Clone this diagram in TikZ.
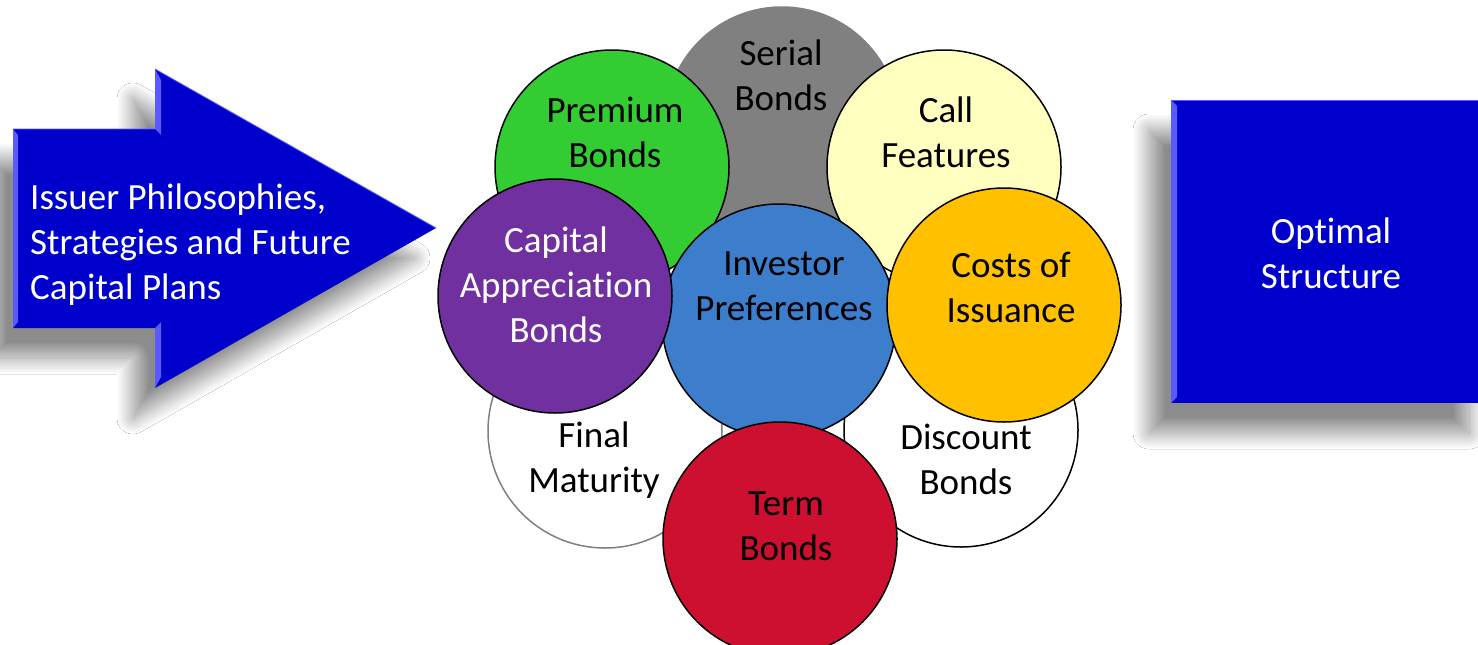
\documentclass[tikz,border=0pt]{standalone}
\usepackage{fontspec}
\setmainfont[Ligatures=NoCommon]{Carlito}
\usepackage{tikz}
\usetikzlibrary{shadows.blur}

\definecolor{planblue}{HTML}{0000CC}
\definecolor{bevelblue}{HTML}{5A5AFF}
\definecolor{serialgray}{HTML}{808080}
\definecolor{premiumgreen}{HTML}{33CC33}
\definecolor{callyellow}{HTML}{FFFFBF}
\definecolor{capitalpurple}{HTML}{7030A0}
\definecolor{investorblue}{HTML}{3C7ECC}
\definecolor{costorange}{HTML}{FFC000}
\definecolor{termred}{HTML}{CE1030}

\tikzset{
  petal/.style={circle, draw=black, line width=1.5pt, minimum size=234pt, inner sep=0pt},
  petal text/.style={align=center, inner sep=0pt, text=black, font=\fontsize{37}{45}\selectfont},
  white text/.style={align=center, inner sep=0pt, text=white, font=\fontsize{37}{45}\selectfont},
  soft shadow/.style={blur shadow={shadow xshift=-22pt, shadow yshift=-30pt,
      shadow blur radius=16pt, shadow blur steps=30, shadow opacity=45}},
}

\begin{document}
\begin{tikzpicture}[x=1pt, y=-1pt]
\useasboundingbox (0,0) rectangle (1478,645);
\clip (0,0) rectangle (1478,645);
\fill[white] (0,0) rectangle (1478,645);

% arrow on the left
\fill[planblue, soft shadow] (13,129) -- (155,129) -- (155,69) -- (436,228)
  -- (155,388) -- (155,328) -- (13,328) -- cycle;
\fill[bevelblue] (13,129) -- (18,135) -- (18,322) -- (13,328) -- cycle;
\fill[bevelblue] (155,69) -- (161,80) -- (161,135) -- (155,129) -- cycle;
\fill[bevelblue] (155,328) -- (161,322) -- (161,377) -- (155,388) -- cycle;
\draw[bevelblue, line width=0.8pt] (13,129) -- (155,129) (155,69) -- (436,228);
\node[white text, align=left, anchor=west] (plans) at (30,245)
  {Issuer Philosophies,\\Strategies and Future\\Capital Plans};

% back row of circles
\node[petal, draw=serialgray, fill=white] (final) at (605,431) {};
\node[petal text] (final-t) at (594,460) {Final\\Maturity};
\node[petal, fill=white] (discount) at (961,430) {};
\node[petal text] (discount-t) at (966,459) {Discount\\Bonds};
\node[petal, draw=serialgray, fill=serialgray] (serial) at (782,124) {};
\node[petal text] (serial-t) at (781,75) {Serial\\Bonds};
\node[petal, fill=premiumgreen] (premium) at (612,167) {};
\node[petal text] (premium-t) at (615,132) {Premium\\Bonds};
\node[petal, fill=callyellow] (call) at (944,167) {};
\node[petal text] (call-t) at (946,132) {Call\\Features};

% middle
\node[petal, fill=investorblue] (investor) at (779,321) {};
\node[petal text] (investor-t) at (784,286) {Investor\\Preferences};

% front row
\node[petal, fill=capitalpurple] (capital) at (555,296) {};
\node[white text] (capital-t) at (556,285) {Capital\\Appreciation\\Bonds};
\node[petal, fill=costorange] (costs) at (1004,305) {};
\node[petal text] (costs-t) at (1011,287) {Costs of\\Issuance};
\node[petal, fill=termred] (term) at (780,539) {};
\node[petal text] (term-t) at (786,526) {Term\\Bonds};

% box on the right
\node[rectangle, fill=planblue, soft shadow, minimum width=320pt, minimum height=303pt,
  inner sep=0pt] (structure) at (1331,251.5) {};
\fill[bevelblue] (1171,100) -- (1177,106) -- (1177,397) -- (1171,403) -- cycle;
\draw[bevelblue, line width=0.8pt] (1171,100) -- (1478,100);
\node[white text] (structure-t) at (1331,253) {Optimal\\Structure};

\end{tikzpicture}
\end{document}
